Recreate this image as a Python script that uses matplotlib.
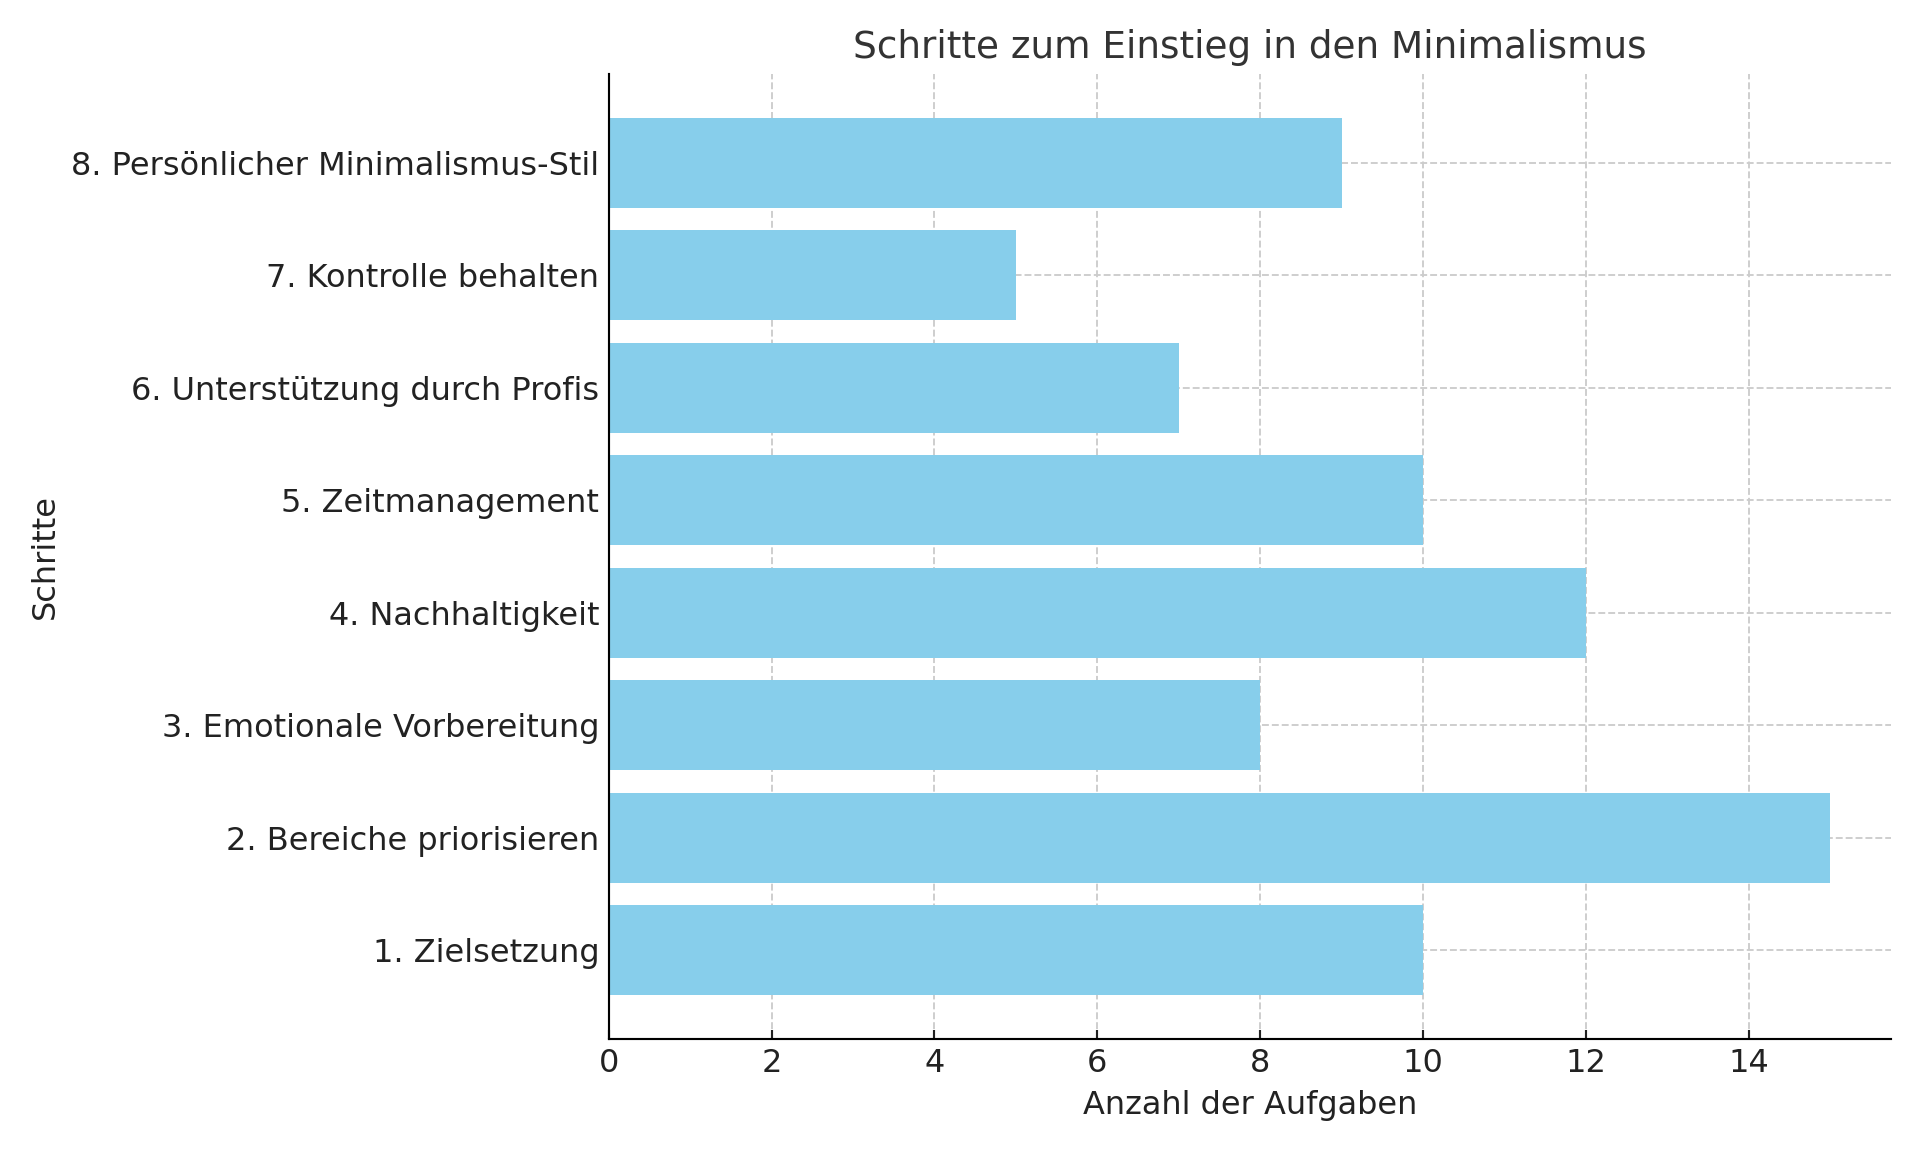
import matplotlib
matplotlib.use("Agg")
import matplotlib.pyplot as plt

steps = [
    "1. Zielsetzung",
    "2. Bereiche priorisieren",
    "3. Emotionale Vorbereitung",
    "4. Nachhaltigkeit",
    "5. Zeitmanagement",
    "6. Unterstützung durch Profis",
    "7. Kontrolle behalten",
    "8. Persönlicher Minimalismus-Stil",
]
tasks = [10, 15, 8, 12, 10, 7, 5, 9]

fig, ax = plt.subplots(figsize=(10, 6), dpi=192)
ax.barh(steps, tasks, color="skyblue", height=0.8)

ax.set_title("Schritte zum Einstieg in den Minimalismus", fontsize=14, color="#333333")
ax.set_xlabel("Anzahl der Aufgaben", fontsize=12, color="#222222")
ax.set_ylabel("Schritte", fontsize=12, color="#222222")
ax.tick_params(labelsize=12, colors="#222222", direction="in")
ax.grid(True, linestyle="--", color="#cccccc", linewidth=0.7)
ax.set_axisbelow(True)
ax.spines["top"].set_visible(False)
ax.spines["right"].set_visible(False)

fig.subplots_adjust(left=0.317, right=0.985, top=0.936, bottom=0.098)
fig.savefig("out.png", dpi=192)
